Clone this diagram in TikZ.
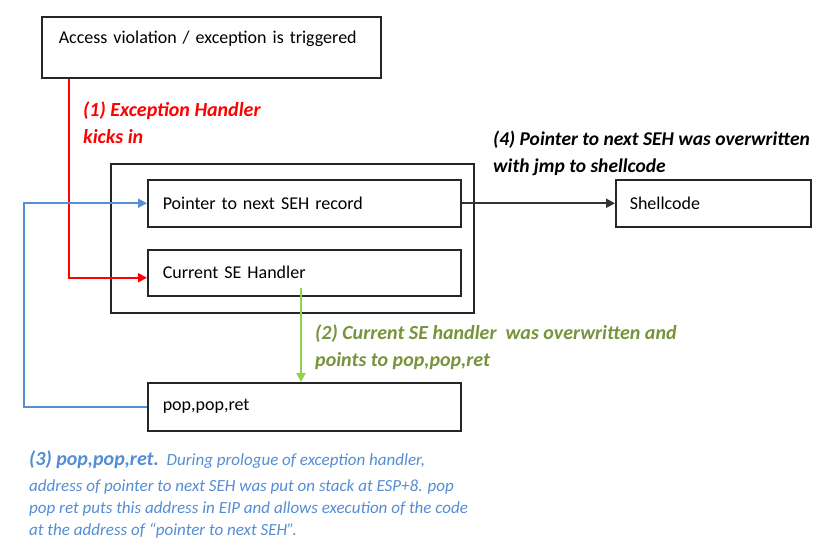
\documentclass[tikz,border=0pt]{standalone}
\usepackage{fontspec}
\setmainfont{Carlito}
\usetikzlibrary{arrows.meta}

\definecolor{sehred}{RGB}{255,0,0}
\definecolor{sehblue}{RGB}{85,142,213}
\definecolor{sehgreen}{RGB}{146,208,80}
\definecolor{seholive}{RGB}{119,147,60}
\definecolor{sehnote}{RGB}{84,141,212}

\tikzset{
  blk/.style={draw=black!85, line width=1.5pt, rectangle, anchor=north west,
    inner xsep=15pt, inner ysep=0pt, align=left,
    font=\fontsize{18}{21}\selectfont},
  flow/.style={line width=2pt, -{Triangle[length=9pt,width=9pt]}},
  note/.style={anchor=north west, align=left, inner sep=0pt,
    font=\fontsize{20}{27}\selectfont\bfseries\itshape},
}

\begin{document}
\begin{tikzpicture}[x=1pt, y=-1pt]
    \useasboundingbox (0,0) rectangle (836,552);

    % boxes
    \node[blk, text width=305pt, inner xsep=17pt, text height=27pt, text depth=34pt] (access) at (41,16) {Access violation / exception is triggered};
    \node[draw=black!85, line width=1.5pt, anchor=north west, minimum width=363pt, minimum height=149pt] (frame) at (110,163) {};
    \node[blk, text width=283pt, minimum height=47pt] (ptr) at (147,179) {Pointer to next SEH record};
    \node[blk, text width=283pt, minimum height=46pt] (cur) at (147,249) {Current SE Handler};
    \node[blk, text width=167pt, inner xsep=14pt, minimum height=47pt] (shell) at (615,179) {Shellcode};
    \node[blk, text width=283pt, minimum height=48pt] (pop) at (147,382) {pop,pop,ret};
    \coordinate (loop) at (24,300);

    % steps
    \draw[flow, sehred] ([xshift=28pt]access.south west) |- ([yshift=-5pt]cur.west);
    \draw[flow, sehgreen] ([xshift=154pt, yshift=9pt]cur.south west) -- ([xshift=154pt]pop.north west);
    \draw[flow, sehblue] (pop.west) -| (loop) |- (ptr.west);
    \draw[flow, black!80] (ptr.east) -- (shell.west);

    % labels
    \node[note, sehred] (lbl1) at (83,101) {(1) Exception Handler\\kicks in};
    \node[note, black, font=\fontsize{19.5}{27}\selectfont\bfseries\itshape] (lbl4) at (493,131) {(4) Pointer to next SEH was overwritten\\with jmp to shellcode};
    \node[note, seholive] (lbl2) at (315,324) {(2) Current SE handler\ \ was overwritten and\\points to pop,pop,ret};
    \node[note, sehnote, font=\fontsize{17}{22}\selectfont\itshape] (lbl3) at (29,450)
      {{\fontsize{20}{22}\selectfont\bfseries (3) pop,pop,ret.}\ \ During prologue of exception handler,\\[4pt]
       address of pointer to next SEH was put on stack at ESP+8. pop\\
       pop ret puts this address in EIP and allows execution of the code\\
       at the address of “pointer to next SEH”.};
\end{tikzpicture}
\end{document}
